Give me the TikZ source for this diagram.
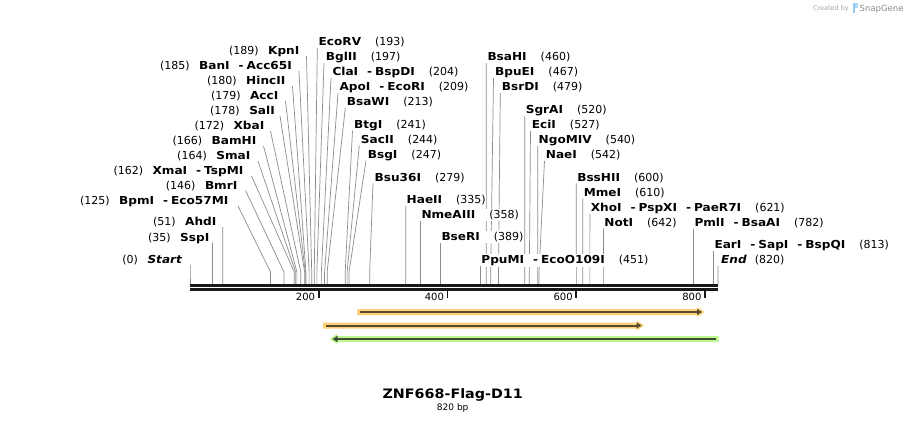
\documentclass[tikz,border=0pt]{standalone}
\usepackage{fontspec}
\setmainfont{DejaVu Sans}[BoldFeatures={FakeStretch=1.1},BoldItalicFeatures={FakeStretch=1.1}]
\usetikzlibrary{arrows.meta}
\pgfdeclarelayer{back}
\pgfdeclarelayer{bg}
\pgfsetlayers{back,bg,main}
\definecolor{featO}{HTML}{FFD27A}
\definecolor{featG}{HTML}{BDF58E}
\definecolor{featOl}{HTML}{594A34}
\definecolor{featGl}{HTML}{3F4D36}
\definecolor{sgblue}{HTML}{8CCBF2}
\tikzset{
  cutline/.style={draw=black!45, line width=0.7pt},
  lbl/.style={fill=white, inner xsep=0.5pt, inner ysep=1pt, font=\fontsize{11}{13}\selectfont},
  rulerline/.style={draw=black!90},
}
\newcommand\dsh{\hspace{9pt}-\hspace{3pt}}
\newcommand\Lb[2]{(#1)\hspace{9.5pt}\textbf{#2}}
\newcommand\Rb[2]{\textbf{#1}\hspace{14pt}(#2)}
% left label: id, bp, line x, text end x, baseline, text
\newcommand\cutL[6]{%
  \coordinate (#1-p) at (#3,#5+1.5);
  \coordinate (#1-k) at ({190+#2*0.6439024},272);
  \coordinate (#1-s) at ({190+#2*0.6439024},284.5);
  \node[lbl,anchor=base east] (#1) at (#4,#5) {#6};
  \begin{pgfonlayer}{bg}\draw[cutline] (#1-p) -- (#1-k) -- (#1-s);\end{pgfonlayer}
}
% right label: id, bp, line x, text start x, baseline, text
\newcommand\cutR[6]{%
  \coordinate (#1-p) at (#3,#5+2.5);
  \coordinate (#1-k) at ({190+#2*0.6439024},272);
  \coordinate (#1-s) at ({190+#2*0.6439024},284.5);
  \node[lbl,anchor=base west] (#1) at (#4-0.5,#5) {#6};
  \begin{pgfonlayer}{bg}\draw[cutline] (#1-p) -- (#1-k) -- (#1-s);\end{pgfonlayer}
}
% feature arrow pointing right: x1, tip, y, fill, line
\newcommand\featR[5]{%
  \fill[#4] (#1,#3-3) -- (#2-6,#3-3) -- (#2-6,#3-5) -- (#2+1,#3) -- (#2-6,#3+5) -- (#2-6,#3+3) -- (#1,#3+3) -- cycle;
  \draw[#5, line width=2pt, -{Triangle[length=5pt,width=6pt]}] (#1+2.5,#3) -- (#2-1.5,#3);
}
% feature arrow pointing left: tip, x2, y, fill, line
\newcommand\featL[5]{%
  \fill[#4] (#2,#3-3) -- (#1+6,#3-3) -- (#1+6,#3-5) -- (#1-1,#3) -- (#1+6,#3+5) -- (#1+6,#3+3) -- (#2,#3+3) -- cycle;
  \draw[#5, line width=2pt, -{Triangle[length=5pt,width=6pt]}] (#2-2.5,#3) -- (#1+1.5,#3);
}
\begin{document}
\begin{tikzpicture}[x=1pt,y=-1pt]
\begin{pgfonlayer}{back}
\fill[white] (0,0) rectangle (909,423);
\end{pgfonlayer}
\useasboundingbox (0,0) rectangle (909,423);

% ---- left labels
\cutL{kpn}{189}{306.5}{300}{54.5}{\Lb{189}{KpnI}}
\cutL{ban}{185}{299}{292.5}{69.5}{\Lb{185}{BanI\dsh Acc65I}}
\cutL{hinc}{180}{292.5}{286}{84.5}{\Lb{180}{HincII}}
\cutL{acc}{179}{285.5}{279}{99.5}{\Lb{179}{AccI}}
\cutL{sal}{178}{280}{275.5}{114.5}{\Lb{178}{SalI}}
\cutL{xba}{172}{270.5}{265}{129.5}{\Lb{172}{XbaI}}
\cutL{bam}{166}{263.5}{257}{144.5}{\Lb{166}{BamHI}}
\cutL{sma}{164}{258}{251}{159.5}{\Lb{164}{SmaI}}
\cutL{xma}{162}{251.5}{244}{174.5}{\Lb{162}{XmaI\dsh TspMI}}
\cutL{bmr}{146}{245.5}{238}{189}{\Lb{146}{BmrI}}
\cutL{bpm}{125}{238}{229}{204.5}{\Lb{125}{BpmI\dsh Eco57MI}}
\cutL{ahd}{51}{222.8}{217}{225.5}{\Lb{51}{AhdI}}
\cutL{ssp}{35}{212.5}{210}{241}{\Lb{35}{SspI}}
\cutL{start}{0}{190}{183}{263}{(0)\hspace{9.5pt}\textbf{\textit{Start}}}

% ---- right labels
\cutR{ecorv}{193}{317.3}{318.5}{45.5}{\Rb{EcoRV}{193}}
\cutR{bgl}{197}{324}{325.7}{60.5}{\Rb{BglII}{197}}
\cutR{cla}{204}{331}{332.3}{75.5}{\Rb{ClaI\dsh BspDI}{204}}
\cutR{apo}{209}{338}{339.3}{90.5}{\Rb{ApoI\dsh EcoRI}{209}}
\cutR{bsaw}{213}{345.3}{346.7}{105.5}{\Rb{BsaWI}{213}}
\cutR{btg}{241}{352.5}{354}{128}{\Rb{BtgI}{241}}
\cutR{sac}{244}{359.3}{360.7}{143}{\Rb{SacII}{244}}
\cutR{bsg}{247}{366}{367.7}{158}{\Rb{BsgI}{247}}
\cutR{bsu}{279}{373}{374.5}{181}{\Rb{Bsu36I}{279}}
\cutR{hae}{335}{405.7}{406.5}{203.5}{\Rb{HaeII}{335}}
\cutR{nme}{358}{420.5}{421.3}{218.5}{\Rb{NmeAIII}{358}}
\cutR{bser}{389}{440.5}{441.3}{240.5}{\Rb{BseRI}{389}}
\cutR{ppu}{451}{480.4}{481.2}{263.5}{\Rb{PpuMI\dsh EcoO109I}{451}}
\cutR{bsah}{460}{486.2}{487.3}{60.5}{\Rb{BsaHI}{460}}
\cutR{bpue}{467}{493.5}{495}{75.5}{\Rb{BpuEI}{467}}
\cutR{bsrd}{479}{500.3}{501.7}{90.5}{\Rb{BsrDI}{479}}
\cutR{sgr}{520}{524.8}{525.6}{113.5}{\Rb{SgrAI}{520}}
\cutR{eci}{527}{530.5}{531.7}{128.5}{\Rb{EciI}{527}}
\cutR{ngo}{540}{537.7}{538.5}{143.5}{\Rb{NgoMIV}{540}}
\cutR{nae}{542}{544.5}{545.7}{158.5}{\Rb{NaeI}{542}}
\cutR{bssh}{600}{576.3}{577.1}{181}{\Rb{BssHII}{600}}
\cutR{mme}{610}{582.8}{583.6}{196}{\Rb{MmeI}{610}}
\cutR{xho}{621}{589.9}{590.7}{211}{\Rb{XhoI\dsh PspXI\dsh PaeR7I}{621}}
\cutR{not}{642}{603.4}{604.2}{226}{\Rb{NotI}{642}}
\cutR{pml}{782}{693.5}{694.3}{226}{\Rb{PmlI\dsh BsaAI}{782}}
\cutR{ear}{813}{713.5}{714.3}{248.5}{\Rb{EarI\dsh SapI\dsh BspQI}{813}}
\cutR{end}{820}{718}{721}{263.5}{\textbf{\textit{End}}\hspace{8pt}(820)}

% ---- ruler
\coordinate (r0a) at (190,285.5); \coordinate (r1a) at (718,285.5);
\coordinate (r0b) at (190,289.5); \coordinate (r1b) at (718,289.5);
\draw[rulerline, line width=3pt] (r0a) -- (r1a);
\draw[rulerline, line width=2.6pt] (r0b) -- (r1b);
\foreach \t in {200,400,600,800}{
  \coordinate (tk\t) at ({190+\t*0.6439024},290.5);
  \draw[rulerline, line width=1.8pt] (tk\t) -- ++(0,7);
  \node[anchor=base east, inner sep=0pt, font=\fontsize{10}{12}\selectfont] (tl\t) at ([xshift=-3.5pt,yshift=-9.5pt]tk\t) {\t};
}

% ---- features
\featR{357}{703.5}{312}{featO}{featOl}
\featR{323}{643}{325.5}{featO}{featOl}
\featL{331}{718.5}{339}{featG}{featGl}

% ---- title
\node[anchor=base, inner sep=0pt, font=\bfseries\fontsize{13}{15}\selectfont] (title) at (452.7,398) {ZNF668-Flag-D11};
\node[anchor=base, inner sep=0pt, font=\fontsize{9}{11}\selectfont] (len) at (452.7,410.5) {820 bp};

% ---- credit
\node[anchor=base east, inner sep=0pt, text=black!35, font=\fontsize{6.5}{8}\selectfont] (cb) at (849,10.5) {Created by};
\fill[sgblue] (852.5,3) rectangle (855,13);
\fill[sgblue!70] (855,3) rectangle (857.5,8);
\node[anchor=base west, inner sep=0pt, text=black!45, font=\fontsize{8.5}{10}\selectfont] (sg) at (859.5,11) {SnapGene};
\end{tikzpicture}
\end{document}
